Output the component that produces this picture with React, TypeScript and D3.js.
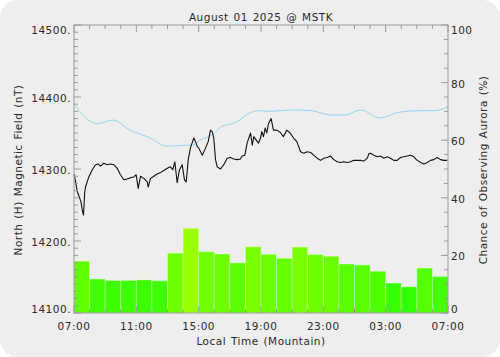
import React from "react";
import * as d3 from "d3";

const title = "August 01 2025 @ MSTK";
const xLabel = "Local Time (Mountain)";
const yLabelLeft = "North (H) Magnetic Field (nT)";
const yLabelRight = "Chance of Observing Aurora (%)";

const timeTickLabels = ["07:00", "11:00", "15:00", "19:00", "23:00", "03:00", "07:00"];
const fieldTicks = [14100, 14200, 14300, 14400, 14500];
const chanceTicks = [0, 20, 40, 60, 80, 100];

// hourly aurora chance (%), 07:00 .. 06:00
const auroraChance = [18, 11.8, 11.3, 11.3, 11.5, 11.2, 20.8, 29.4, 21.3, 20.5, 17.4, 23, 20.4, 19, 22.9, 20.3, 19.7, 17, 16.7, 14.5, 10.4, 9.1, 15.6, 12.7];

// quiet-day baseline (nT), hours since 07:00
const baseHours = [0, 1.5, 2.5, 3.6, 4.9, 5.9, 6.5, 7.2, 7.6, 8.1, 8.9, 9.4, 10.4, 11.3, 11.9, 12.6, 13.9, 15.2, 16.5, 17.4, 18.4, 19.6, 20.9, 22.2, 23.1, 24];
const baseValues = [14390, 14363, 14368, 14354, 14343, 14332, 14332, 14333, 14333, 14340, 14348, 14358, 14365, 14378, 14381, 14380, 14382, 14381, 14375, 14375, 14382, 14371, 14379, 14381, 14381, 14386];

// measured H component (nT), hours since 07:00
const fieldHours = [
  0.01, 0.22, 0.44, 0.55, 0.61, 0.69,
  0.74, 0.95, 1.17, 1.38, 1.55, 1.7, 1.91, 2.13, 2.34, 2.55, 2.77, 2.98, 3.2, 3.41, 3.63, 3.84, 3.99, 4.12, 4.27, 4.48, 4.7, 4.76, 4.91, 5.12, 5.34, 5.55, 5.76, 5.98, 6.19, 6.34, 6.47, 6.62, 6.77, 6.94, 7.09, 7.2, 7.33, 7.48,
  7.69, 7.8, 7.91, 8.01, 8.23, 8.44, 8.61, 8.76, 8.87, 8.97, 9.08, 9.19, 9.4, 9.61, 9.83, 10.04, 10.25, 10.47, 10.68, 10.79, 10.96, 11.11, 11.22, 11.33, 11.44, 11.54, 11.76, 11.84, 11.97, 12.05, 12.16, 12.27, 12.37, 12.48, 12.65, 12.8, 13.01, 13.23, 13.44, 13.66, 13.87, 14.09, 14.3,
  14.54, 14.75, 14.97, 15.18, 15.39, 15.61, 15.82, 16.03, 16.25, 16.46, 16.67, 16.89, 17.1, 17.31, 17.53, 17.74, 17.96, 18.17, 18.39, 18.6, 18.82, 18.92, 19.03, 19.24, 19.46, 19.67, 19.88, 20.1, 20.31, 20.52, 20.74, 20.95, 21.16, 21.38, 21.59, 21.81, 22.02, 22.24, 22.45, 22.67, 22.88, 23.09, 23.31, 23.52, 23.73, 23.95,
];
const fieldValues = [
  14293, 14268, 14255, 14241, 14236, 14268,
  14275, 14289, 14299, 14306, 14307, 14304, 14308, 14306, 14307, 14306, 14301, 14292, 14285, 14286, 14288, 14289, 14292, 14273, 14290, 14287, 14282, 14275, 14287, 14290, 14293, 14295, 14298, 14301, 14303, 14299, 14310, 14281, 14299, 14306, 14285, 14282, 14313, 14330,
  14343, 14338, 14331, 14329, 14319, 14329, 14338, 14354, 14352, 14343, 14313, 14303, 14300, 14306, 14315, 14316, 14314, 14313, 14314, 14318, 14319, 14336, 14343, 14350, 14333, 14345, 14338, 14336, 14343, 14352, 14345, 14357, 14350, 14363, 14370, 14354, 14354, 14351, 14345, 14354, 14350, 14343, 14338,
  14324, 14322, 14324, 14323, 14319, 14315, 14312, 14315, 14316, 14318, 14313, 14310, 14309, 14310, 14309, 14310, 14312, 14312, 14312, 14311, 14315, 14321, 14322, 14319, 14317, 14318, 14315, 14317, 14315, 14312, 14312, 14316, 14317, 14318, 14319, 14317, 14312, 14309, 14307, 14309, 14312, 14313, 14316, 14313, 14312, 14312,
];

const W = 500, H = 357;
const L = 74, R = 448, T = 25, B = 313;
const FONT = "'DejaVu Sans', sans-serif";
const TXT = "#2a2a2a";
const AX = "#9a9a9a";

export default function App() {
  const x = d3.scaleLinear().domain([0, 24]).range([L, R]);
  const yF = d3.scaleLinear().domain([14100, 14500]).range([B, T]);
  const yC = d3.scaleLinear().domain([0, 100]).range([B, T]);
  const redScale = d3.scaleLinear().domain([9.1, 29.4]).range([50, 153]).clamp(true);
  const barColor = (v: number) => `rgb(${Math.round(redScale(v))},255,0)`;

  const lineField = d3.line<number>().x((_, i) => x(fieldHours[i])).y((d) => yF(d));
  const lineBase = d3.line<number>().x((_, i) => x(baseHours[i])).y((d) => yF(d)).curve(d3.curveMonotoneX);

  const hourTicks = d3.range(0, 25);
  const fieldMinor = d3.range(14100, 14501, 10);
  const chanceMinor = d3.range(0, 101, 5);

  return (
    <svg width={W} height={H} style={{ position: "absolute", left: 0, top: 0 }} fontFamily={FONT}>
      <rect x={0} y={0} width={W} height={H} fill="#ffffff" />
      <rect x={0} y={0} width={W} height={H} rx={18} ry={18} fill="#eeeeee" />

      {/* bars */}
      {auroraChance.map((v, i) => (
        <rect key={i} x={x(i)} y={yC(v)} width={x(i + 1) - x(i)} height={B - yC(v)}
          fill={barColor(v)} stroke="#ffffff" strokeOpacity={0.3} strokeWidth={1} />
      ))}

      {/* baseline */}
      <path d={lineBase(baseValues) || ""} fill="none" stroke="#8fd6f2" strokeWidth={1} />
      {/* field */}
      <path d={lineField(fieldValues) || ""} fill="none" stroke="#111" strokeWidth={1.1} strokeLinejoin="round" />

      {/* frame */}
      <rect x={L} y={T} width={R - L} height={B - T} fill="none" stroke={AX} strokeWidth={1} />

      {/* x ticks (bottom and top) */}
      {hourTicks.map((h) => {
        const len = h % 4 === 0 ? 7 : 4;
        return (
          <g key={h}>
            <line x1={x(h)} x2={x(h)} y1={B} y2={B - len} stroke={AX} />
            <line x1={x(h)} x2={x(h)} y1={T} y2={T + len} stroke={AX} />
          </g>
        );
      })}
      {timeTickLabels.map((s, i) => (
        <text key={i} x={x(i * 4)} y={330} textAnchor="middle" fontSize={10.5} fill={TXT} letterSpacing={0.5}>{s}</text>
      ))}

      {/* left ticks */}
      {fieldMinor.map((v) => (
        <line key={v} x1={L} x2={L + (v % 100 === 0 ? 7 : 4)} y1={yF(v)} y2={yF(v)} stroke={AX} />
      ))}
      {fieldTicks.map((v, i) => (
        <text key={v} x={71} y={yF(v) + (i === 0 ? 0 : i === fieldTicks.length - 1 ? 9 : 5)} textAnchor="end" fontSize={10.5} fill={TXT} letterSpacing={0.5}>{v + "."}</text>
      ))}

      {/* right ticks */}
      {chanceMinor.map((v) => (
        <line key={v} x1={R} x2={R - (v % 20 === 0 ? 7 : 4)} y1={yC(v)} y2={yC(v)} stroke={AX} />
      ))}
      {chanceTicks.map((v, i) => (
        <text key={v} x={451} y={yC(v) + (i === 0 ? 0 : i === chanceTicks.length - 1 ? 9 : 5)} textAnchor="start" fontSize={10.5} fill={TXT} letterSpacing={0.5}>{v}</text>
      ))}

      {/* titles */}
      <text x={261} y={21} textAnchor="middle" fontSize={10.5} fill={TXT} letterSpacing={0.5} wordSpacing={1}>{title}</text>
      <text x={261} y={345} textAnchor="middle" fontSize={10.5} fill={TXT} letterSpacing={0.5} wordSpacing={1}>{xLabel}</text>
      <text transform={`translate(22,170) rotate(-90)`} textAnchor="middle" fontSize={10.5} fill={TXT} letterSpacing={0.5} wordSpacing={1}>{yLabelLeft}</text>
      <text transform={`translate(487,170) rotate(-90)`} textAnchor="middle" fontSize={10.5} fill={TXT} letterSpacing={0.5} wordSpacing={1}>{yLabelRight}</text>
    </svg>
  );
}
